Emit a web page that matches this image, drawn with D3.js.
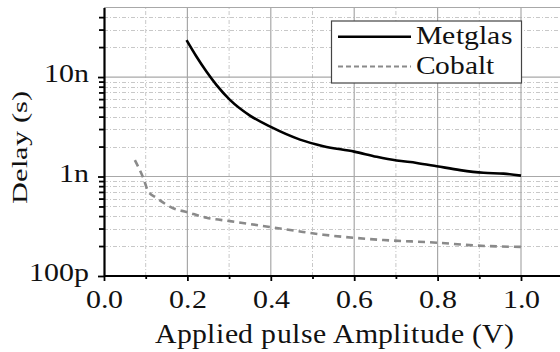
<!DOCTYPE html>
<html>
<head>
<meta charset="utf-8">
<script src="https://cdn.jsdelivr.net/npm/d3@7"></script>
<style>
@font-face{font-family:"ChartSerif";src:local("Liberation Serif"),local("LiberationSerif-Regular"),local("LiberationSerif"),local("Tinos"),local("Tinos-Regular"),local("Times New Roman");font-display:block;}
html,body{margin:0;padding:0;background:#fff;overflow:hidden;}
svg{display:block;}
svg text{font-family:"ChartSerif","Liberation Serif",Tinos,serif;}
</style>
</head>
<body>
<svg id="chart" width="560" height="352"></svg>
<script>
// ---- data (delay in seconds) ----
const metglasX = [0.198,0.222,0.246,0.270,0.302,0.350,0.400,0.470,0.526,0.600,0.654,0.702,0.750,0.798,0.854,0.910,0.958,1.000];
const metglasY = [23.5e-9,16e-9,11.3e-9,8.3e-9,5.9e-9,4.1e-9,3.15e-9,2.35e-9,2.02e-9,1.78e-9,1.58e-9,1.45e-9,1.37e-9,1.27e-9,1.16e-9,1.09e-9,1.07e-9,1.02e-9];
const cobaltX = [0.074,0.094,0.106,0.126,0.166,0.198,0.246,0.302,0.400,0.470,0.526,0.600,0.670,0.800,0.886,1.000];
const cobaltY = [1.46e-9,0.97e-9,0.71e-9,0.61e-9,0.48e-9,0.44e-9,0.385e-9,0.356e-9,0.31e-9,0.28e-9,0.26e-9,0.242e-9,0.23e-9,0.216e-9,0.203e-9,0.196e-9];
const seriesNames = ["Metglas","Cobalt"];
const xMajorTicks = [0,0.2,0.4,0.6,0.8,1.0];
const xMinorTicks = [0.1,0.3,0.5,0.7,0.9,1.1];
const yMajorTicks = [1e-10,1e-9,1e-8];
const yTickLabels = ["100p","1n","10n"];
const yMinorTicks = [2e-10,3e-10,4e-10,5e-10,6e-10,7e-10,8e-10,9e-10,2e-9,3e-9,4e-9,5e-9,6e-9,7e-9,8e-9,9e-9,2e-8,3e-8,4e-8];
const xTitle = "Applied pulse Amplitude (V)";
const yTitle = "Delay (s)";

const FONT = '"ChartSerif", "Liberation Serif", Tinos, serif';
if (document.fonts && document.fonts.load) { document.fonts.load('26px "ChartSerif"'); }
const svg = d3.select("#chart");
const x = d3.scaleLinear().domain([0,1.1]).range([104,104+1.1*417]);
const y = d3.scaleLog().domain([1e-10,5e-8]).range([276,7.5]);
const X0 = x(0), X1 = 560, Y0 = y(1e-10), Y1 = y(5e-8);

// grid
const grid = svg.append("g");
grid.selectAll(".xmin").data(xMinorTicks).join("line")
  .attr("x1",d=>x(d)).attr("x2",d=>x(d)).attr("y1",Y0).attr("y2",Y1)
  .attr("stroke","#c8c8c8").attr("stroke-width",1).attr("stroke-dasharray","4,2,1,2");
grid.selectAll(".ymin").data(yMinorTicks).join("line")
  .attr("x1",X0).attr("x2",X1).attr("y1",d=>Math.round(y(d))+0.5).attr("y2",d=>Math.round(y(d))+0.5)
  .attr("stroke","#c8c8c8").attr("stroke-width",1).attr("stroke-dasharray","4,2,1,2");
grid.selectAll(".xmaj").data(xMajorTicks.slice(1)).join("line")
  .attr("x1",d=>x(d)).attr("x2",d=>x(d)).attr("y1",Y0).attr("y2",Y1)
  .attr("stroke","#a8a8a8").attr("stroke-width",1.2);
grid.selectAll(".ymaj").data(yMajorTicks.slice(1).concat([5e-8])).join("line")
  .attr("x1",X0).attr("x2",X1).attr("y1",d=>y(d)).attr("y2",d=>y(d))
  .attr("stroke","#a8a8a8").attr("stroke-width",1.2);

// lines
const lineGen = d3.line().x(d=>x(d[0])).y(d=>y(d[1])).curve(d3.curveMonotoneX);
svg.append("path").datum(d3.zip(cobaltX,cobaltY)).attr("d",lineGen)
  .attr("fill","none").attr("stroke","#8a8a8a").attr("stroke-width",2.6).attr("stroke-dasharray","7,5");
svg.append("path").datum(d3.zip(metglasX,metglasY)).attr("d",lineGen)
  .attr("fill","none").attr("stroke","#000").attr("stroke-width",2.6);

// axes
const fmtY = d => yTickLabels[yMajorTicks.indexOf(d)];
const gy = svg.append("g").attr("transform",`translate(${X0},0)`);
gy.call(d3.axisLeft(y).tickValues(yMinorTicks).tickSize(5).tickFormat(""));
gy.call(g=>g.select(".domain").remove());
const gyM = svg.append("g").attr("transform",`translate(${X0},0)`);
gyM.call(d3.axisLeft(y).tickValues(yMajorTicks).tickSize(6).tickSizeOuter(0).tickFormat(fmtY).tickPadding(7));
const gx = svg.append("g").attr("transform",`translate(0,${Y0})`);
gx.call(d3.axisBottom(x).tickValues(xMinorTicks.filter(d=>x(d)<=X1)).tickSize(3).tickFormat(""));
gx.call(g=>g.select(".domain").remove());
const gxM = svg.append("g").attr("transform",`translate(0,${Y0})`);
gxM.call(d3.axisBottom(x).tickValues(xMajorTicks).tickSize(5).tickSizeOuter(0).tickFormat(d3.format(".1f")).tickPadding(9));
svg.selectAll("g[font-family]").attr("font-family",null);
svg.selectAll(".tick line").attr("stroke","#000").attr("stroke-width",1.8);
gyM.select(".domain").attr("stroke","#000").attr("stroke-width",2.2);
gxM.select(".domain").attr("stroke","#000").attr("stroke-width",2.2).attr("d",`M${X0},0H${X1}`);

svg.selectAll(".tick text").attr("font-size",26);
gyM.selectAll(".tick text").each(function(){
  const t=d3.select(this); const xx=+t.attr("x");
  t.attr("x",null).attr("dy",null)
   .attr("transform",`translate(${xx-2},4.5) scale(1.15,1)`);
});
gxM.selectAll(".tick text").each(function(){
  const t=d3.select(this);
  t.attr("y",null).attr("dy",null)
   .attr("transform",`translate(0,32) scale(1.15,1)`);
});

// titles
svg.append("text").attr("x",334).attr("y",343).attr("text-anchor","middle")
  .attr("font-size",27).attr("textLength",359).attr("lengthAdjust","spacingAndGlyphs").text(xTitle);
svg.append("text").attr("transform","translate(26.5,147.5) rotate(-90)").attr("text-anchor","middle")
  .attr("font-size",22).attr("textLength",113).attr("lengthAdjust","spacingAndGlyphs").text(yTitle);

// legend
const lg = svg.append("g");
lg.append("rect").attr("x",331.5).attr("y",21).attr("width",190).attr("height",62)
  .attr("fill","#fff").attr("stroke","#444").attr("stroke-width",1.2);
const legendStyles = [{stroke:"#000",dash:null,y:36.7,tl:96},{stroke:"#8a8a8a",dash:"5,3",y:66.5,tl:78}];
seriesNames.forEach((name,i)=>{
  const s = legendStyles[i];
  lg.append("line").attr("x1",338).attr("x2",411).attr("y1",s.y).attr("y2",s.y)
    .attr("stroke",s.stroke).attr("stroke-width",i===0?2.4:2).attr("stroke-dasharray",s.dash);
  lg.append("text").attr("x",416).attr("y",s.y+7.5).attr("font-size",26)
    .attr("textLength",s.tl).attr("lengthAdjust","spacingAndGlyphs").text(name);
});

svg.selectAll("text").attr("font-family",FONT).style("font-family",FONT).style("fill","#111");
</script>
</body>
</html>
